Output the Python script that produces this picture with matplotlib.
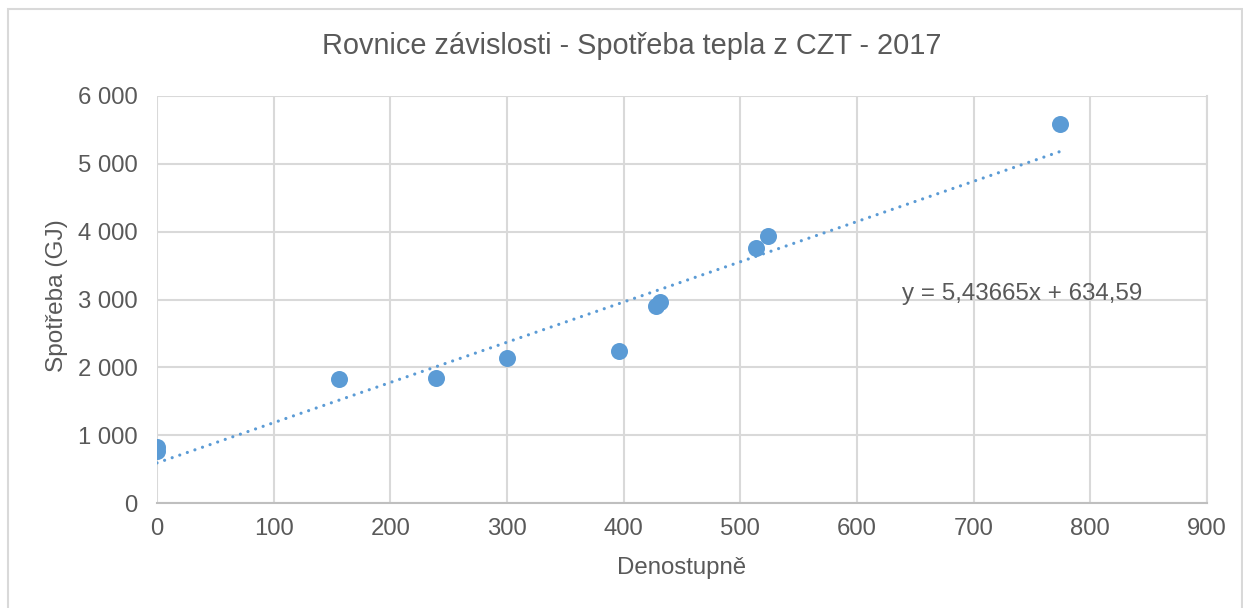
import numpy as np
from matplotlib import pyplot as plt
from matplotlib.patches import Rectangle

plt.rcParams['font.family'] = ['Liberation Sans', 'DejaVu Sans']

# data
denostupne = [0, 0, 156, 239, 300, 396, 428, 431, 513, 524, 774]
spotreba = [825, 760, 1830, 1845, 2135, 2245, 2905, 2970, 3765, 3935, 5590]
x_ticks = [0, 100, 200, 300, 400, 500, 600, 700, 800, 900]
y_ticks = [0, 1000, 2000, 3000, 4000, 5000, 6000]
rovnice = "y = 5,43665x + 634,59"

text_c = "#595959"
grid_c = "#d9d9d9"
blue = "#5b9bd5"

fig = plt.figure(figsize=(12.43, 6.08), dpi=100)
fig.patches.append(Rectangle((8 / 1243, -0.1), (1234) / 1243, 1 - 9 / 608 + 0.1,
                             transform=fig.transFigure, fill=False,
                             edgecolor="#d9d9d9", linewidth=1.5))

ax = fig.add_axes([157 / 1243, 1 - 503 / 608, 1050 / 1243, 407 / 608])

# trendline (linear fit)
k, q = np.polyfit(denostupne, spotreba, 1)
xs = np.array([0, max(denostupne)])
ax.plot(xs, k * xs + q, color=blue, linewidth=2.3, linestyle=(0, (0.01, 2.5)),
        dash_capstyle="round", zorder=3)

ax.scatter(denostupne, spotreba, s=150, color=blue, zorder=4, linewidths=0)

ax.set_xlim(0, 900)
ax.set_ylim(0, 6000)
ax.set_xticks(x_ticks)
ax.set_yticks(y_ticks)
ax.set_yticklabels([f"{v:,}".replace(",", " ") for v in y_ticks])
ax.grid(True, color=grid_c, linewidth=1.5)
ax.set_axisbelow(True)
for side in ["top", "left"]:
    ax.spines[side].set_visible(False)
ax.spines["right"].set_color(grid_c)
ax.spines["right"].set_linewidth(1.5)
ax.spines["bottom"].set_color("#bfbfbf")
ax.spines["bottom"].set_linewidth(1.5)
ax.tick_params(length=0, labelsize=17.2, colors=text_c)
ax.tick_params(axis="x", pad=11)
ax.tick_params(axis="y", pad=14)

ax.text(639, 3080, rovnice, fontsize=17.4, color=text_c, va="center", ha="left")

fig.text(682 / 1243, 1 - 568 / 608, "Denostupně", fontsize=17.3, color=text_c,
         ha="center", va="center")
fig.text(57 / 1243, 1 - 296 / 608, "Spotřeba (GJ)", fontsize=17.6, color=text_c,
         ha="center", va="center", rotation=90)
fig.text(632 / 1243, 1 - 46 / 608, "Rovnice závislosti - Spotřeba tepla z CZT - 2017",
         fontsize=20.8, color=text_c, ha="center", va="center")

plt.savefig("out.png", dpi=100)
